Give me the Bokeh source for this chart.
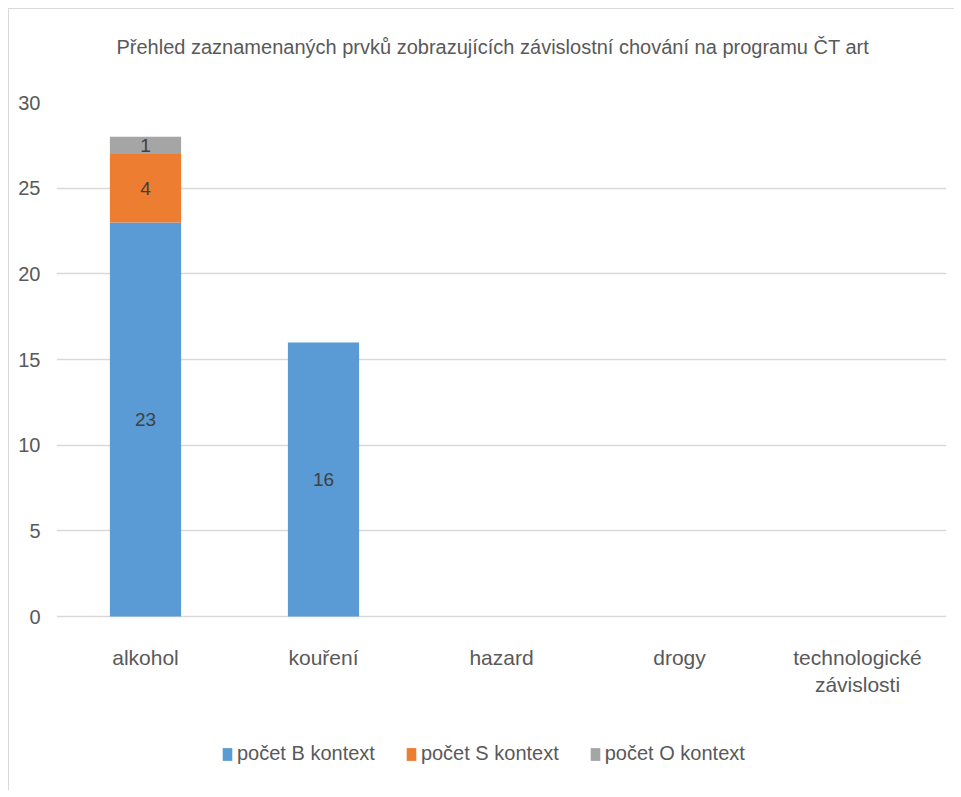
from bokeh.plotting import figure
from bokeh.models import Range1d, FactorRange, Legend, LegendItem, ColumnDataSource, FixedTicker, Title
from bokeh.core.properties import value
from bokeh.embed import file_html
from bokeh.resources import INLINE

categories = ["alkohol", "kouření", "hazard", "drogy", "technologické\nzávislosti"]
series_names = ["počet B kontext", "počet S kontext", "počet O kontext"]
count_b = [23, 16, 0, 0, 0]
count_s = [4, 0, 0, 0, 0]
count_o = [1, 0, 0, 0, 0]
y_ticks = [0, 5, 10, 15, 20, 25, 30]
title_text = "Přehled zaznamenaných prvků zobrazujících závislostní chování na programu ČT art"

colors = ["#5B9BD5", "#ED7D31", "#A5A5A5"]
FONT = "'Liberation Sans Narrow', 'Arial Narrow', 'Liberation Sans', sans-serif"
TXT = "#595959"

# frame runs from the top gridline (30) down to the bottom of the chart; the
# space under 0 holds the category labels and the legend
Y_MIN = -10.15

p = figure(
    title=None,
    x_range=FactorRange(*categories, range_padding=0),
    y_range=Range1d(Y_MIN, 30),
    width=945, height=781,
    frame_width=890, frame_height=688,
    min_border_left=47, min_border_right=8, min_border_top=93, min_border_bottom=0,
    output_backend="svg", toolbar_location=None,
    background_fill_color="white", border_fill_color="white",
)
p.styles = {"margin-left": "8px", "margin-top": "8px",
            "border-top": "1px solid #d9d9d9", "border-left": "1px solid #d9d9d9"}
p.outline_line_color = None

# spacer (nearest the frame), then the real title
p.add_layout(Title(text=" ", text_font_size="1px", standoff=42), "above")
p.add_layout(Title(text=title_text, text_font=FONT, text_font_size="20px",
                   text_font_style="normal", text_color=TXT, align="left",
                   offset=60, vertical_align="bottom", standoff=0), "above")

src = ColumnDataSource(dict(cat=categories, b=count_b, s=count_s, o=count_o))
rs = p.vbar_stack(["b", "s", "o"], x="cat", width=0.4, color=colors, line_color=None, source=src)

# data labels at the middle of each non-zero segment
lx, ly, lt = [], [], []
for i, c in enumerate(categories):
    base = 0
    for vals in (count_b, count_s, count_o):
        v = vals[i]
        if v:
            lx.append(c)
            ly.append(base + v / 2)
            lt.append(str(v))
        base += v
p.text(x=lx, y=ly, text=lt, text_align="center", text_baseline="middle",
       text_font=value(FONT), text_font_size="19px", text_color="#404040")

p.yaxis.ticker = FixedTicker(ticks=y_ticks)
p.yaxis.axis_line_color = None
p.yaxis.major_tick_line_color = None
p.yaxis.minor_tick_line_color = None
p.yaxis.major_label_text_font = FONT
p.yaxis.major_label_text_font_size = "20px"
p.yaxis.major_label_text_color = TXT
p.yaxis.major_label_standoff = 10

p.xaxis.fixed_location = 0
p.xaxis.axis_line_color = None
p.xaxis.major_tick_line_color = None
p.xaxis.major_label_text_font = FONT
p.xaxis.major_label_text_font_size = "21px"
p.xaxis.major_label_text_color = TXT
p.xaxis.major_label_standoff = 23

p.xgrid.grid_line_color = None
p.ygrid.grid_line_color = "#d9d9d9"
p.ygrid.grid_line_width = 1.5
p.ygrid.ticker = FixedTicker(ticks=y_ticks)

legend = Legend(
    items=[LegendItem(label=n, renderers=[r]) for n, r in zip(series_names, rs)],
    orientation="horizontal",
    location=(165, 25),
    border_line_color=None,
    background_fill_alpha=0,
    label_text_font=FONT,
    label_text_font_size="20px",
    label_text_color=TXT,
    glyph_width=12, glyph_height=16,
    label_standoff=4, spacing=30, padding=0, margin=0,
)
p.add_layout(legend, "center")

open("out.html", "w").write(file_html(p, INLINE))
